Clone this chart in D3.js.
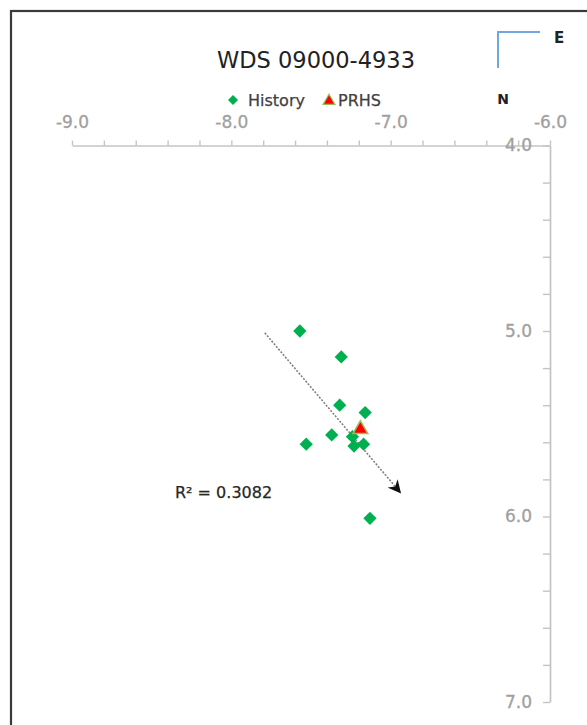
<!DOCTYPE html>
<html>
<head>
<meta charset="utf-8">
<script src="https://cdn.jsdelivr.net/npm/d3@7"></script>
<style>
  body { margin: 0; background: #fff; }
  svg { display: block; font-family: "DejaVu Sans", sans-serif; }
</style>
</head>
<body>
<svg width="587" height="725"></svg>
<script>
// history measurements (East / North offsets)
var histX = [-7.57, -7.31, -7.32, -7.16, -7.37, -7.53, -7.24, -7.23, -7.17, -7.13];
var histY = [5.00, 5.14, 5.40, 5.44, 5.56, 5.61, 5.57, 5.62, 5.61, 6.01];
// PRHS point
var prhsX = [-7.19];
var prhsY = [5.53];
// trend arrow ends
var trendX = [-7.79, -6.94];
var trendY = [5.01, 5.87];
var rSquared = "R² = 0.3082";

var xMajor = [-9, -8, -7, -6];
var yMajor = [4, 5, 6, 7];

var svg = d3.select("svg");

// outer frame
svg.append("rect")
  .attr("x", 11).attr("y", 11)
  .attr("width", 640).attr("height", 800)
  .attr("fill", "#fff")
  .attr("stroke", "#3a3a3a")
  .attr("stroke-width", 2.2);

var x = d3.scaleLinear().domain([-9, -6]).range([72, 550]);
var y = d3.scaleLinear().domain([4, 7]).range([145.5, 702]);

var xTicks = d3.range(0, 16).map(function(i) { return -9 + i * 0.2; });
var yTicks = d3.range(0, 16).map(function(i) { return 4 + i * 0.2; });

function isMajor(list, v) {
  return list.some(function(m) { return Math.abs(m - v) < 1e-6; });
}
// excel style label, plain hyphen for the minus
function fmt(d) { return d.toFixed(1).replace("\u2212", "-"); }

var xAxis = d3.axisTop(x)
  .tickValues(xTicks)
  .tickSize(5)
  .tickSizeOuter(0)
  .tickPadding(13)
  .tickFormat(function(d) { return isMajor(xMajor, d) ? fmt(d) : ""; });

var yAxis = d3.axisLeft(y)
  .tickValues(yTicks)
  .tickSize(7)
  .tickSizeOuter(0)
  .tickPadding(11)
  .tickFormat(function(d) { return isMajor(yMajor, d) ? fmt(d) : ""; });

var gx = svg.append("g").attr("transform", "translate(0," + y(4) + ")").call(xAxis);
var gy = svg.append("g").attr("transform", "translate(" + x(-6) + ",0)").call(yAxis);

[gx, gy].forEach(function(g) {
  g.select(".domain").attr("stroke", "#c4c4c4").attr("stroke-width", 1.7);
  g.selectAll(".tick line").attr("stroke", "#c4c4c4").attr("stroke-width", 1.4);
  g.selectAll(".tick text")
    .attr("fill", "#a0a0a0")
    .attr("stroke", "#a0a0a0")
    .attr("stroke-width", 0.3)
    .style("font-size", "17px")
    .style("font-family", "DejaVu Sans, sans-serif");
});

// title
svg.append("text")
  .attr("x", 316).attr("y", 68)
  .attr("text-anchor", "middle")
  .attr("fill", "#222")
  .style("font-size", "22.5px")
  .text("WDS 09000-4933");

// legend
var legend = svg.append("g");
legend.append("path")
  .attr("d", d3.symbol(d3.symbolSquare, 50)())
  .attr("transform", "translate(233,100) rotate(45)")
  .attr("fill", "#00b050");
legend.append("text")
  .attr("x", 248).attr("y", 106)
  .attr("fill", "#404040")
  .attr("stroke", "#404040")
  .attr("stroke-width", 0.25)
  .style("font-size", "16px")
  .text("History");
legend.append("path")
  .attr("d", d3.symbol(d3.symbolTriangle, 60)())
  .attr("transform", "translate(329,101)")
  .attr("fill", "#ff0000")
  .attr("stroke", "#9bbb59")
  .attr("stroke-width", 1.2);
legend.append("text")
  .attr("x", 338).attr("y", 106)
  .attr("fill", "#404040")
  .attr("stroke", "#404040")
  .attr("stroke-width", 0.25)
  .style("font-size", "16px")
  .text("PRHS");

// compass
svg.append("path")
  .attr("d", "M498,68 L498,32 L540,32")
  .attr("fill", "none")
  .attr("stroke", "#6fa8dc")
  .attr("stroke-width", 2);
svg.append("text")
  .attr("x", 559).attr("y", 43)
  .attr("text-anchor", "middle")
  .attr("fill", "#222")
  .style("font-size", "15px")
  .style("font-weight", "bold")
  .text("E");
svg.append("text")
  .attr("x", 503).attr("y", 104)
  .attr("text-anchor", "middle")
  .attr("fill", "#222")
  .style("font-size", "14px")
  .style("font-weight", "bold")
  .text("N");

// trend arrow
svg.append("defs").append("marker")
  .attr("id", "arrow")
  .attr("viewBox", "0 0 10 10")
  .attr("refX", 9).attr("refY", 5)
  .attr("markerWidth", 13).attr("markerHeight", 13)
  .attr("markerUnits", "userSpaceOnUse")
  .attr("orient", "auto")
  .append("path")
  .attr("d", "M0,0 L10,5 L0,10 L3,5 Z")
  .attr("fill", "#111");

var trend = trendX.map(function(d, i) { return [d, trendY[i]]; });
svg.append("path")
  .datum(trend)
  .attr("d", d3.line().x(function(d) { return x(d[0]); }).y(function(d) { return y(d[1]); }))
  .attr("fill", "none")
  .attr("stroke", "#808080")
  .attr("stroke-width", 1.6)
  .attr("stroke-dasharray", "2,1.5")
  .attr("marker-end", "url(#arrow)");

// history points
var hist = histX.map(function(d, i) { return [d, histY[i]]; });
svg.selectAll(".hist")
  .data(hist)
  .enter()
  .append("path")
  .attr("class", "hist")
  .attr("d", d3.symbol(d3.symbolSquare, 88)())
  .attr("transform", function(d) { return "translate(" + x(d[0]) + "," + y(d[1]) + ") rotate(45)"; })
  .attr("fill", "#00b050");

// PRHS point
var prhs = prhsX.map(function(d, i) { return [d, prhsY[i]]; });
svg.selectAll(".prhs")
  .data(prhs)
  .enter()
  .append("path")
  .attr("class", "prhs")
  .attr("d", d3.symbol(d3.symbolTriangle, 95)())
  .attr("transform", function(d) { return "translate(" + x(d[0]) + "," + y(d[1]) + ")"; })
  .attr("fill", "#ff0000")
  .attr("stroke", "#9bbb59")
  .attr("stroke-width", 1.5);

// R squared label
svg.append("text")
  .attr("x", 175).attr("y", 498)
  .attr("fill", "#262626")
  .attr("stroke", "#262626")
  .attr("stroke-width", 0.25)
  .style("font-size", "16px")
  .text(rSquared);
</script>
</body>
</html>
